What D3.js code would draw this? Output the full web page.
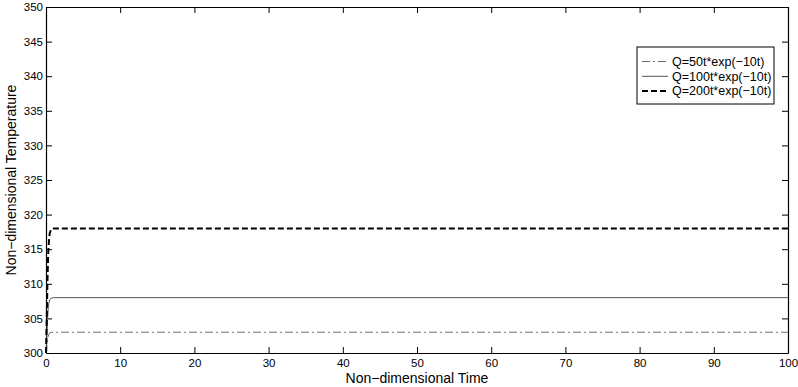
<!DOCTYPE html>
<html>
<head>
<meta charset="utf-8">
<script src="https://cdn.jsdelivr.net/npm/d3@7"></script>
<style>
  body { margin: 0; background: #fff; }
  svg { display: block; font-family: "Liberation Sans", Arial, Helvetica, sans-serif; }
</style>
</head>
<body>
<div id="chart"></div>
<script>
"use strict";

// time samples (rise happens within the first unit of time)
const times = [0, 0.1, 0.2, 0.3, 0.4, 0.5, 0.7, 1, 100];
const temp50 = [300, 300.8, 301.8, 302.4, 302.7, 302.9, 303, 303, 303];
const temp100 = [300, 302.1, 304.8, 306.4, 307.3, 307.7, 307.9, 308, 308];
const temp200 = [300, 304.8, 310.7, 314.4, 316.3, 317.3, 317.9, 318, 318];
const seriesNames = ["Q=50t*exp(\u221210t)", "Q=100t*exp(\u221210t)", "Q=200t*exp(\u221210t)"];
const xTicks = [0, 10, 20, 30, 40, 50, 60, 70, 80, 90, 100];
const yTicks = [300, 305, 310, 315, 320, 325, 330, 335, 340, 345, 350];

const svgWidth = 798;
const svgHeight = 387;
const plot = { left: 46, right: 788, top: 7, bottom: 353 };

const svg = d3.select("#chart")
  .append("svg")
  .attr("width", svgWidth)
  .attr("height", svgHeight)
;

const xScale = d3.scaleLinear().domain([0, 100]).range([plot.left, plot.right]);
const yScale = d3.scaleLinear().domain([300, 350]).range([plot.bottom, plot.top]);

const styles = [
  { color: "#6a6a6a", width: 1, dash: "8,3,2,3" },
  { color: "#555", width: 1, dash: null },
  { color: "#000", width: 2, dash: "6,3" }
];
const series = [temp50, temp100, temp200];

// axes: ticks point inward, MATLAB style box
const tickFont = "11.5px";
const xAxis = d3.axisBottom(xScale).tickValues(xTicks).tickSizeInner(-6).tickSizeOuter(0).tickPadding(6);
const yAxis = d3.axisLeft(yScale).tickValues(yTicks).tickSizeInner(-6).tickSizeOuter(0).tickPadding(3);
const xTop = d3.axisTop(xScale).tickValues(xTicks).tickSizeInner(-6).tickSizeOuter(0).tickFormat("");
const yRight = d3.axisRight(yScale).tickValues(yTicks).tickSizeInner(-6).tickSizeOuter(0).tickFormat("");

[
  [xAxis, `translate(0,${plot.bottom})`],
  [yAxis, `translate(${plot.left},0)`],
  [xTop, `translate(0,${plot.top})`],
  [yRight, `translate(${plot.right},0)`]
].forEach(([ax, tr]) => {
  const g = svg.append("g").attr("transform", tr).call(ax);
  g.selectAll("text").style("font-size", tickFont).attr("fill", "#000");
  g.selectAll("line").attr("stroke", "#000");
  g.select(".domain").attr("stroke", "#000").attr("stroke-width", 1.2);
});

const line = d3.line()
  .x((d, i) => xScale(times[i]))
  .y(d => yScale(d))
;

series.forEach((s, i) => {
  svg.append("path")
    .datum(s)
    .attr("d", line)
    .attr("fill", "none")
    .attr("stroke", styles[i].color)
    .attr("stroke-width", styles[i].width)
    .attr("stroke-dasharray", styles[i].dash)
  ;
});

// axis titles
svg.append("text")
  .attr("x", (plot.left + plot.right) / 2)
  .attr("y", 383)
  .attr("text-anchor", "middle")
  .style("font-size", "14px")
  .text("Non\u2212dimensional Time")
;
svg.append("text")
  .attr("transform", `translate(16,${(plot.top + plot.bottom) / 2}) rotate(-90)`)
  .attr("text-anchor", "middle")
  .style("font-size", "14px")
  .text("Non\u2212dimensional Temperature")
;

// legend
const legend = svg.append("g");
legend.append("rect")
  .attr("x", 637).attr("y", 47)
  .attr("width", 137).attr("height", 57)
  .attr("fill", "#fff").attr("stroke", "#000")
;
seriesNames.forEach((name, i) => {
  const y = 61.5 + i * 14.8;
  legend.append("line")
    .attr("x1", 642).attr("x2", 668)
    .attr("y1", y).attr("y2", y)
    .attr("stroke", styles[i].color)
    .attr("stroke-width", styles[i].width)
    .attr("stroke-dasharray", styles[i].dash)
  ;
  legend.append("text")
    .attr("x", 672).attr("y", y)
    .attr("dy", "0.35em")
    .style("font-size", "12.5px")
    .text(name)
  ;
});
</script>
</body>
</html>
